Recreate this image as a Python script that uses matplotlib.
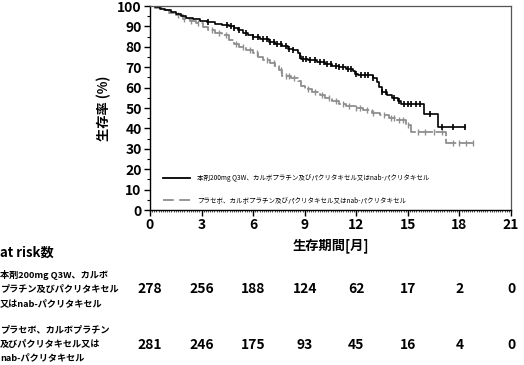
import numpy as np
import matplotlib
matplotlib.use("Agg")
import matplotlib.pyplot as plt
from matplotlib.ticker import MultipleLocator
from matplotlib.lines import Line2D

plt.rcParams['font.family'] = ['Noto Sans CJK JP', 'DejaVu Sans']

# ---- data ----
pem_t = [0, 0.3, 0.6, 0.9, 1.2, 1.5, 1.8, 2.1, 2.5, 2.9, 3.3, 3.8, 4.2, 4.6, 4.9, 5.1, 5.4, 5.7,
         6.0, 6.4, 6.9, 7.3, 7.7, 8.0, 8.3, 8.6, 8.7, 8.8, 9.2, 9.7, 10.2, 10.6, 11.0, 11.4,
         11.8, 11.9, 12.1, 13.0, 13.2, 13.3, 13.5, 13.8, 14.1, 14.4, 14.6, 15.95, 16.75]
pem_s = [100, 99.3, 98.6, 97.8, 97.1, 96.0, 95.0, 94.2, 93.5, 92.8, 92.1, 91.4, 90.8, 90.0, 89.0,
         88.0, 87.0, 86.0, 84.8, 83.6, 82.5, 81.4, 80.2, 79.0, 78.2, 76.8, 75.4, 74.2, 73.5, 72.6,
         71.6, 70.8, 70.0, 69.2, 68.0, 66.8, 66.0, 64.8, 62.8, 60.2, 58.0, 56.4, 55.0, 53.5, 52.2,
         47.3, 40.8]
pem_end = 18.3
pem_cens = [3.4, 4.5, 4.7, 4.9, 5.2, 5.6, 6.0, 6.3, 6.6, 6.8, 7.0, 7.2, 7.4, 7.6, 7.9, 8.1, 8.3,
            8.75, 8.9, 9.1, 9.3, 9.6, 9.9, 10.1, 10.3, 10.5, 10.8, 11.0, 11.2, 11.5, 11.7, 12.0,
            12.3, 12.5, 12.7, 13.0, 13.5, 13.7, 14.2, 14.5, 14.8, 15.0, 15.2, 15.5, 15.7, 16.3,
            17.0, 17.6, 18.3]

pla_t = [0, 0.3, 0.7, 1.1, 1.5, 1.9, 2.3, 2.7, 3.1, 3.4, 3.8, 4.2, 4.6, 4.9, 5.2, 5.6, 6.0, 6.3,
         6.6, 7.0, 7.3, 7.5, 7.7, 8.2, 8.6, 8.8, 9.0, 9.4, 9.9, 10.2, 10.6, 11.0, 11.4, 11.9,
         12.4, 12.9, 13.4, 13.9, 14.3, 14.9, 15.2, 17.2]
pla_s = [100, 99.0, 97.9, 96.8, 95.4, 93.8, 92.8, 91.5, 89.6, 88.0, 86.8, 85.6, 83.4, 81.2, 79.8,
         78.6, 77.0, 75.0, 73.3, 72.0, 70.8, 68.5, 65.5, 64.5, 63.2, 61.0, 59.5, 58.0, 56.4, 54.8,
         53.5, 52.2, 51.0, 49.8, 48.8, 47.6, 46.4, 45.0, 44.2, 41.7, 38.4, 32.7]
pla_end = 18.8
pla_cens = [1.6, 2.0, 2.4, 2.8, 3.6, 4.0, 4.4, 5.0, 5.4, 5.8, 6.2, 6.8, 7.2, 7.6, 7.9, 8.1, 8.4,
            9.2, 9.6, 10.0, 10.4, 10.8, 11.2, 11.6, 12.0, 12.2, 12.6, 13.0, 13.6, 14.0, 14.2,
            14.5, 14.7, 15.0, 15.6, 16.0, 16.5, 17.0, 17.6, 18.0, 18.4, 18.8]

xticks = [0, 3, 6, 9, 12, 15, 18, 21]
risk_pem = [278, 256, 188, 124, 62, 17, 2, 0]
risk_pla = [281, 246, 175, 93, 45, 16, 4, 0]

label_pem = "本剤200mg Q3W、カルボプラチン及びパクリタキセル又はnab-パクリタキセル"
label_pla = "プラセボ、カルボプラチン及びパクリタキセル又はnab-パクリタキセル"
row_pem = "本剤200mg Q3W、カルボ\nプラチン及びパクリタキセル\n又はnab-パクリタキセル"
row_pla = "プラセボ、カルボプラチン\n及びパクリタキセル又は\nnab-パクリタキセル"

# ---- figure ----
fig = plt.figure(figsize=(5.24, 3.65), dpi=100)
ax = fig.add_axes([150/524, 155/365, 361/524, 204/365])

def step_xy(t, s, end):
    x = list(t) + [end]
    y = list(s) + [s[-1]]
    return x, y

def surv_at(t, s, q):
    idx = np.searchsorted(np.array(t), np.array(q), side='right') - 1
    return np.array(s)[idx]

grey = '#8f8f8f'
x, y = step_xy(pla_t, pla_s, pla_end)
ax.step(x, y, where='post', color=grey, lw=1.3, dashes=(8, 1.5))
ax.plot(pla_cens, surv_at(pla_t, pla_s, pla_cens), ls='none', marker='|',
        ms=4, mew=1.0, color=grey)

x, y = step_xy(pem_t, pem_s, pem_end)
ax.step(x, y, where='post', color='black', lw=1.2)
ax.plot(pem_cens, surv_at(pem_t, pem_s, pem_cens), ls='none', marker='|',
        ms=4, mew=1.2, color='black')

ax.set_xlim(0, 21)
ax.set_ylim(0, 100)
ax.set_xticks(xticks)
ax.set_yticks(range(0, 101, 10))
ax.xaxis.set_minor_locator(MultipleLocator(0.125))
ax.yaxis.set_minor_locator(MultipleLocator(5))
ax.tick_params(axis='both', which='major', direction='out', length=4, width=1,
               labelsize=10, pad=2)
for lab in ax.get_xticklabels() + ax.get_yticklabels():
    lab.set_fontweight('bold')
ax.tick_params(axis='x', which='minor', direction='out', length=1.5, width=0.5)
ax.tick_params(axis='y', which='minor', direction='out', length=2, width=0.8)
for sp in ['top', 'right']:
    ax.spines[sp].set_color('#555555')
    ax.spines[sp].set_linewidth(0.9)
for sp in ['left', 'bottom']:
    ax.spines[sp].set_linewidth(1.0)

ax.set_xlabel("生存期間[月]", fontsize=9.5, labelpad=4, fontweight='bold')
ax.set_ylabel("生存率 (%)", fontsize=9.5, labelpad=4, fontweight='bold')

# legend (manual)
ax.add_line(Line2D([0.036, 0.111], [0.157, 0.157], transform=ax.transAxes,
                   color='black', lw=1.3))
ax.add_line(Line2D([0.036, 0.111], [0.049, 0.049], transform=ax.transAxes,
                   color=grey, lw=1.3, dashes=(6, 3)))
ax.text(0.13, 0.157, label_pem, transform=ax.transAxes, fontsize=4.7, va='center', ha='left')
ax.text(0.13, 0.049, label_pla, transform=ax.transAxes, fontsize=4.7, va='center', ha='left')

# at-risk table
fig.text(0.0, 1 - 253/365, "at risk数", fontsize=9.5, va='center', ha='left', fontweight='bold')
fig.text(0.0, 1 - 289/365, row_pem, fontsize=6.6, va='center', ha='left', linespacing=1.7,
         fontweight='bold')
fig.text(0.0, 1 - 344/365, row_pla, fontsize=6.6, va='center', ha='left', linespacing=1.7,
         fontweight='bold')

trans = matplotlib.transforms.blended_transform_factory(ax.transData, fig.transFigure)
for xt, a, b in zip(xticks, risk_pem, risk_pla):
    fig.text(xt, 1 - 289/365, str(a), transform=trans, fontsize=10, ha='center', va='center',
             fontweight='bold')
    fig.text(xt, 1 - 345/365, str(b), transform=trans, fontsize=10, ha='center', va='center',
             fontweight='bold')

fig.savefig("out.png", dpi=100)
